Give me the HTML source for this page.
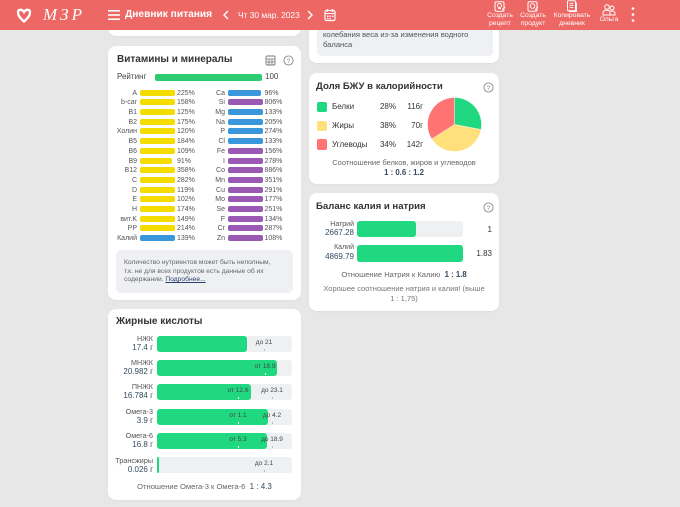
<!DOCTYPE html>
<html><head><meta charset="utf-8">
<style>
*{margin:0;padding:0;box-sizing:border-box}
body{width:680px;height:507px;overflow:hidden;background:#e7e7e7;font-family:"Liberation Sans","DejaVu Sans",sans-serif;position:relative;color:#333}
.a{position:absolute;white-space:nowrap;line-height:10px}
.panel{position:absolute;background:#fff;border-radius:8px;box-shadow:0 1px 2px rgba(0,0,0,.04)}
.hdr{position:absolute;left:0;top:0;width:680px;height:30px;background:#ed6764;z-index:5}
.w{color:#fff}
.r{position:absolute;left:0;width:680px;height:9.7px;font-size:7px;line-height:9.7px;color:#555}
.r span,.r i{position:absolute;white-space:nowrap}
.r span{top:0.8px}
.l1{right:543px}
.l2{right:455px}
.r i{top:1.85px;height:6px;border-radius:2px}
.b1{left:139.5px}
.b2{left:227.5px}
.p1{left:177px}
.p2{left:264.5px}
.y{background:#f4dc00}
.bl{background:#3a97dc}
.pu{background:#9b59b6}
.trk{position:absolute;left:157px;width:135px;height:16px;background:#eef0f2;border-radius:3px}
.fill{position:absolute;left:0;top:0;height:16px;background:#1fd880;border-radius:3px}
.mk{position:absolute;font-size:6.5px;color:#444;line-height:8px;top:3px;transform:translateX(-50%);white-space:nowrap}
.tk{position:absolute;width:1px;height:2px;background:#bbb;top:13px}
.fl{position:absolute;right:527px;font-size:7.2px;color:#555;line-height:8px;white-space:nowrap;text-align:right}
.fv{position:absolute;right:527px;font-size:8px;color:#34495e;line-height:9px;white-space:nowrap;text-align:right}
.ttl{font-size:10px;font-weight:bold;color:#333}
</style></head><body>

<!-- header -->
<div class="hdr">
  <svg class="a" style="left:16px;top:8px" width="16" height="15" viewBox="0 0 16 15">
    <path d="M8 4 C6 1 2 1 2 4.5 C2 8 5 11 8 13.5 C11 11 14 8 14 4.5 C14 1 10 1 8 4 Z" fill="none" stroke="#fff" stroke-width="2.4"/>
  </svg>
  <div class="a w" style="left:43px;top:5px;font-family:'Liberation Serif',serif;font-style:italic;font-size:17px;line-height:20px;letter-spacing:3px">МЗР</div>
  <svg class="a" style="left:108px;top:9px" width="13" height="12"><rect x="0" y="1" width="12" height="1.6" fill="#fff"/><rect x="0" y="5.2" width="12" height="1.6" fill="#fff"/><rect x="0" y="9.4" width="12" height="1.6" fill="#fff"/></svg>
  <div class="a w" style="left:125px;top:9px;font-size:10.2px;font-weight:bold;line-height:12px">Дневник питания</div>
  <svg class="a" style="left:222px;top:10px" width="8" height="10"><polyline points="6,1 2,5 6,9" fill="none" stroke="#fff" stroke-width="1.4"/></svg>
  <div class="a w" style="left:238px;top:10px;font-size:8.4px;line-height:10px">Чт 30 мар. 2023</div>
  <svg class="a" style="left:306px;top:10px" width="8" height="10"><polyline points="2,1 6,5 2,9" fill="none" stroke="#fff" stroke-width="1.4"/></svg>
  <svg class="a" style="left:324px;top:8px" width="12" height="14"><rect x="1" y="2.5" width="10" height="10" rx="1.5" fill="none" stroke="#fff" stroke-width="1.2"/><line x1="1" y1="5.5" x2="11" y2="5.5" stroke="#fff" stroke-width="1"/><line x1="3.5" y1="1" x2="3.5" y2="4" stroke="#fff" stroke-width="1.2"/><line x1="8.5" y1="1" x2="8.5" y2="4" stroke="#fff" stroke-width="1.2"/><rect x="3" y="7.5" width="1.5" height="1.5" fill="#fff"/><rect x="5.5" y="7.5" width="1.5" height="1.5" fill="#fff"/><rect x="8" y="7.5" width="1.5" height="1.5" fill="#fff"/><rect x="3" y="10" width="1.5" height="1.2" fill="#fff"/><rect x="5.5" y="10" width="1.5" height="1.2" fill="#fff"/></svg>

  <svg class="a" style="left:494px;top:1px" width="12" height="11"><rect x="1" y="0.7" width="9" height="9.5" rx="1.5" fill="none" stroke="#fff" stroke-width="1"/><circle cx="5.5" cy="4.5" r="2" fill="none" stroke="#fff" stroke-width="0.9"/><line x1="4" y1="7.5" x2="7" y2="7.5" stroke="#fff" stroke-width="0.9"/><path d="M8 9 L11 6" stroke="#fff" stroke-width="1"/></svg>
  <div class="a w" style="left:470px;width:60px;text-align:center;top:12px;font-size:6.8px;line-height:8px">Создать<br>рецепт</div>
  <svg class="a" style="left:527px;top:1px" width="12" height="11"><rect x="1" y="0.7" width="9" height="9.5" rx="1.5" fill="none" stroke="#fff" stroke-width="1"/><circle cx="5.5" cy="5" r="2.3" fill="none" stroke="#fff" stroke-width="0.9"/><path d="M8 9 L11 6" stroke="#fff" stroke-width="1"/></svg>
  <div class="a w" style="left:503px;width:60px;text-align:center;top:12px;font-size:6.8px;line-height:8px">Создать<br>продукт</div>
  <svg class="a" style="left:566px;top:0px" width="12" height="12"><rect x="1.5" y="0.7" width="8" height="10" rx="1" fill="none" stroke="#fff" stroke-width="1"/><line x1="3.5" y1="3.5" x2="7.5" y2="3.5" stroke="#fff" stroke-width="0.8"/><line x1="3.5" y1="5.5" x2="7.5" y2="5.5" stroke="#fff" stroke-width="0.8"/><line x1="3.5" y1="7.5" x2="7.5" y2="7.5" stroke="#fff" stroke-width="0.8"/><path d="M10.5 2.5 V11.5 H3" fill="none" stroke="#fff" stroke-width="0.9"/></svg>
  <div class="a w" style="left:542px;width:60px;text-align:center;top:12px;font-size:6.8px;line-height:8px">Копировать<br>дневник</div>
  <svg class="a" style="left:602px;top:4px" width="14" height="12"><circle cx="5" cy="3" r="2.3" fill="none" stroke="#fff" stroke-width="1"/><circle cx="10" cy="4" r="2" fill="none" stroke="#fff" stroke-width="1"/><path d="M1 11 V8.5 Q1 6.3 5 6.3 Q8 6.3 8 8.5 V11 Z" fill="none" stroke="#fff" stroke-width="1"/><path d="M8.5 7 Q13 6.8 13 9 V11 H8" fill="none" stroke="#fff" stroke-width="1"/></svg>
  <div class="a w" style="left:579px;width:60px;text-align:center;top:16px;font-size:6.8px;line-height:8px">Ольга</div>
  <svg class="a" style="left:630px;top:6px" width="6" height="18"><circle cx="3" cy="2.5" r="1.3" fill="#fff"/><circle cx="3" cy="8.5" r="1.3" fill="#fff"/><circle cx="3" cy="14.5" r="1.3" fill="#fff"/></svg>
</div>

<!-- top remnants -->
<div class="panel" style="left:108px;top:14px;width:193px;height:22px"></div>
<div class="panel" style="left:309px;top:14px;width:190px;height:49px"></div>
<div class="a" style="left:317px;top:14px;width:176px;height:42px;background:#eef0f3;border-radius:5px"></div>
<div class="a" style="left:323px;top:30px;font-size:7.6px;color:#555;line-height:9.5px">колебания веса из-за изменения водного<br>баланса</div>

<!-- vitamins panel -->
<div class="panel" style="left:108px;top:46px;width:193px;height:254px"></div>
<div class="a ttl" style="left:117px;top:55px">Витамины и минералы</div>
<svg class="a" style="left:265px;top:55px" width="11" height="11"><rect x="1" y="1" width="9" height="9" rx="1" fill="none" stroke="#777" stroke-width="0.9"/><line x1="1" y1="4" x2="10" y2="4" stroke="#777" stroke-width="0.8"/><line x1="1" y1="7" x2="10" y2="7" stroke="#777" stroke-width="0.8"/><line x1="4" y1="4" x2="4" y2="10" stroke="#777" stroke-width="0.8"/><line x1="7" y1="4" x2="7" y2="10" stroke="#777" stroke-width="0.8"/></svg>
<svg class="a" style="left:283px;top:55px" width="11" height="11"><circle cx="5.5" cy="5.5" r="4.6" fill="none" stroke="#888" stroke-width="0.9"/><text x="5.5" y="8" font-size="6.5" text-anchor="middle" fill="#888" font-family="Liberation Sans">?</text></svg>
<div class="a" style="left:117px;top:72px;font-size:8px;color:#444">Рейтинг</div>
<div class="a" style="left:155px;top:74px;width:107px;height:7px;background:#2ecc71;border-radius:2px"></div>
<div class="a" style="left:265px;top:72px;font-size:8px;color:#444">100</div>

<div class="r" style="top:87.85px"><span class="l1">A</span><i class="b1 y" style="width:35.5px"></i><span class="p1">225%</span><span class="l2">Ca</span><i class="b2 bl" style="width:33.6px"></i><span class="p2">96%</span></div>
<div class="r" style="top:97.55px"><span class="l1">b-car</span><i class="b1 y" style="width:35.5px"></i><span class="p1">158%</span><span class="l2">Si</span><i class="b2 pu" style="width:35px"></i><span class="p2">806%</span></div>
<div class="r" style="top:107.25px"><span class="l1">B1</span><i class="b1 y" style="width:35.5px"></i><span class="p1">125%</span><span class="l2">Mg</span><i class="b2 bl" style="width:35px"></i><span class="p2">133%</span></div>
<div class="r" style="top:116.95px"><span class="l1">B2</span><i class="b1 y" style="width:35.5px"></i><span class="p1">175%</span><span class="l2">Na</span><i class="b2 bl" style="width:35px"></i><span class="p2">205%</span></div>
<div class="r" style="top:126.65px"><span class="l1">Холин</span><i class="b1 y" style="width:35.5px"></i><span class="p1">120%</span><span class="l2">P</span><i class="b2 bl" style="width:35px"></i><span class="p2">274%</span></div>
<div class="r" style="top:136.35px"><span class="l1">B5</span><i class="b1 y" style="width:35.5px"></i><span class="p1">184%</span><span class="l2">Cl</span><i class="b2 bl" style="width:35px"></i><span class="p2">133%</span></div>
<div class="r" style="top:146.05px"><span class="l1">B6</span><i class="b1 y" style="width:35.5px"></i><span class="p1">109%</span><span class="l2">Fe</span><i class="b2 pu" style="width:35px"></i><span class="p2">156%</span></div>
<div class="r" style="top:155.75px"><span class="l1">B9</span><i class="b1 y" style="width:32.3px"></i><span class="p1">91%</span><span class="l2">I</span><i class="b2 pu" style="width:35px"></i><span class="p2">278%</span></div>
<div class="r" style="top:165.45px"><span class="l1">B12</span><i class="b1 y" style="width:35.5px"></i><span class="p1">358%</span><span class="l2">Co</span><i class="b2 pu" style="width:35px"></i><span class="p2">886%</span></div>
<div class="r" style="top:175.15px"><span class="l1">C</span><i class="b1 y" style="width:35.5px"></i><span class="p1">282%</span><span class="l2">Mn</span><i class="b2 pu" style="width:35px"></i><span class="p2">351%</span></div>
<div class="r" style="top:184.85px"><span class="l1">D</span><i class="b1 y" style="width:35.5px"></i><span class="p1">119%</span><span class="l2">Cu</span><i class="b2 pu" style="width:35px"></i><span class="p2">291%</span></div>
<div class="r" style="top:194.55px"><span class="l1">E</span><i class="b1 y" style="width:35.5px"></i><span class="p1">102%</span><span class="l2">Mo</span><i class="b2 pu" style="width:35px"></i><span class="p2">177%</span></div>
<div class="r" style="top:204.25px"><span class="l1">H</span><i class="b1 y" style="width:35.5px"></i><span class="p1">174%</span><span class="l2">Se</span><i class="b2 pu" style="width:35px"></i><span class="p2">251%</span></div>
<div class="r" style="top:213.95px"><span class="l1">вит.K</span><i class="b1 y" style="width:35.5px"></i><span class="p1">149%</span><span class="l2">F</span><i class="b2 pu" style="width:35px"></i><span class="p2">134%</span></div>
<div class="r" style="top:223.65px"><span class="l1">PP</span><i class="b1 y" style="width:35.5px"></i><span class="p1">214%</span><span class="l2">Cr</span><i class="b2 pu" style="width:35px"></i><span class="p2">287%</span></div>
<div class="r" style="top:233.35px"><span class="l1">Калий</span><i class="b1 bl" style="width:35.5px"></i><span class="p1">139%</span><span class="l2">Zn</span><i class="b2 pu" style="width:35px"></i><span class="p2">108%</span></div>

<div class="a" style="left:116px;top:250px;width:177px;height:43px;background:#eef0f3;border-radius:5px"></div>
<div class="a" style="left:124px;top:259px;font-size:6.7px;line-height:8.5px;color:#666">Количество нутриентов может быть неполным,<br>т.к. не для всех продуктов есть данные об их<br>содержании. <span style="color:#2c3e70;text-decoration:underline">Подробнее...</span></div>

<!-- fatty acids -->
<div class="panel" style="left:108px;top:309px;width:193px;height:191px"></div>
<div class="a ttl" style="left:116px;top:317px">Жирные кислоты</div>

<div class="fl" style="top:335px">НЖК</div><div class="fv" style="top:343px">17.4 г</div>
<div class="trk" style="top:336px"><div class="fill" style="width:90px"></div><div class="mk" style="left:107px">до 21</div><div class="tk" style="left:107px"></div></div>

<div class="fl" style="top:359px">МНЖК</div><div class="fv" style="top:367px">20.982 г</div>
<div class="trk" style="top:360px"><div class="fill" style="width:120px"></div><div class="mk" style="left:108px">от 18.9</div><div class="tk" style="left:108px;background:#fff"></div></div>

<div class="fl" style="top:383px">ПНЖК</div><div class="fv" style="top:391px">16.784 г</div>
<div class="trk" style="top:384px"><div class="fill" style="width:94px"></div><div class="mk" style="left:81px">от 12.6</div><div class="tk" style="left:81px;background:#fff"></div><div class="mk" style="left:115px">до 23.1</div><div class="tk" style="left:115px"></div></div>

<div class="fl" style="top:407.5px">Омега-3</div><div class="fv" style="top:415.5px">3.9 г</div>
<div class="trk" style="top:408.5px"><div class="fill" style="width:111px"></div><div class="mk" style="left:81px">от 1.1</div><div class="tk" style="left:81px;background:#fff"></div><div class="mk" style="left:115px">до 4.2</div><div class="tk" style="left:115px"></div></div>

<div class="fl" style="top:432px">Омега-6</div><div class="fv" style="top:440px">16.8 г</div>
<div class="trk" style="top:432.7px"><div class="fill" style="width:110px"></div><div class="mk" style="left:81px">от 5.3</div><div class="tk" style="left:81px;background:#fff"></div><div class="mk" style="left:115px">до 18.9</div><div class="tk" style="left:115px"></div></div>

<div class="fl" style="top:457px">Трансжиры</div><div class="fv" style="top:465px">0.026 г</div>
<div class="trk" style="top:457.3px"><div class="fill" style="width:2px;border-radius:1px"></div><div class="mk" style="left:107px">до 2.1</div><div class="tk" style="left:107px"></div></div>

<div class="a" style="left:108px;width:193px;text-align:center;top:482px;font-size:7.6px;color:#666">Отношение Омега-3 к Омега-6 &nbsp;<b style="color:#34495e;font-weight:normal;font-size:8px">1 : 4.3</b></div>

<!-- BJU panel -->
<div class="panel" style="left:309px;top:73px;width:190px;height:111px"></div>
<div class="a ttl" style="left:316px;top:82px;font-size:9.6px">Доля БЖУ в калорийности</div>
<svg class="a" style="left:483px;top:82px" width="11" height="11"><circle cx="5.5" cy="5.5" r="4.6" fill="none" stroke="#888" stroke-width="0.9"/><text x="5.5" y="8" font-size="6.5" text-anchor="middle" fill="#888" font-family="Liberation Sans">?</text></svg>

<div class="a" style="left:316.5px;top:101.5px;width:10.5px;height:10.5px;background:#1fd880;border-radius:2px"></div>
<div class="a" style="left:332px;top:102px;font-size:8px;color:#333">Белки</div>
<div class="a" style="left:370px;width:26px;text-align:right;top:102px;font-size:8px;color:#333">28%</div>
<div class="a" style="left:400px;width:23px;text-align:right;top:102px;font-size:8px;color:#333">116г</div>

<div class="a" style="left:316.5px;top:120.5px;width:10.5px;height:10.5px;background:#ffe07a;border-radius:2px"></div>
<div class="a" style="left:332px;top:121px;font-size:8px;color:#333">Жиры</div>
<div class="a" style="left:370px;width:26px;text-align:right;top:121px;font-size:8px;color:#333">38%</div>
<div class="a" style="left:400px;width:23px;text-align:right;top:121px;font-size:8px;color:#333">70г</div>

<div class="a" style="left:316.5px;top:139px;width:10.5px;height:10.5px;background:#ff7373;border-radius:2px"></div>
<div class="a" style="left:332px;top:139.5px;font-size:8px;color:#333">Углеводы</div>
<div class="a" style="left:370px;width:26px;text-align:right;top:139.5px;font-size:8px;color:#333">34%</div>
<div class="a" style="left:400px;width:23px;text-align:right;top:139.5px;font-size:8px;color:#333">142г</div>

<svg class="a" style="left:0;top:0" width="680" height="507">
  <path d="M454.5,124.5 L454.5,97.5 A27,27 0 0 1 481.02,129.56 Z" fill="#1fd880" stroke="#fff" stroke-width="0.4"/>
  <path d="M454.5,124.5 L481.02,129.56 A27,27 0 0 1 431.7,138.97 Z" fill="#ffe07a" stroke="#fff" stroke-width="0.4"/>
  <path d="M454.5,124.5 L431.7,138.97 A27,27 0 0 1 454.5,97.5 Z" fill="#ff7373" stroke="#fff" stroke-width="0.4"/>
</svg>

<div class="a" style="left:309px;width:190px;text-align:center;top:158px;font-size:7.5px;color:#666">Соотношение белков, жиров и углеводов</div>
<div class="a" style="left:309px;width:190px;text-align:center;top:167.5px;font-size:7.8px;color:#34495e;font-weight:bold">1 : 0.6 : 1.2</div>

<!-- balance panel -->
<div class="panel" style="left:309px;top:193px;width:190px;height:118px"></div>
<div class="a ttl" style="left:316px;top:202px;font-size:9.6px">Баланс калия и натрия</div>
<svg class="a" style="left:483px;top:202px" width="11" height="11"><circle cx="5.5" cy="5.5" r="4.6" fill="none" stroke="#888" stroke-width="0.9"/><text x="5.5" y="8" font-size="6.5" text-anchor="middle" fill="#888" font-family="Liberation Sans">?</text></svg>

<div class="a" style="right:326px;top:220.5px;font-size:7px;color:#555;line-height:8px">Натрий</div>
<div class="a" style="right:326px;top:228px;font-size:8px;color:#34495e;line-height:9px">2667.28</div>
<div class="a" style="left:357px;top:221px;width:106px;height:16px;background:#eef0f2;border-radius:3px"><div class="fill" style="width:59px"></div></div>
<div class="a" style="right:188px;top:224.5px;font-size:8px;color:#333">1</div>

<div class="a" style="right:326px;top:244px;font-size:7px;color:#555;line-height:8px">Калий</div>
<div class="a" style="right:326px;top:251.5px;font-size:8px;color:#34495e;line-height:9px">4869.79</div>
<div class="a" style="left:357px;top:245px;width:106px;height:17px;background:#eef0f2;border-radius:3px"><div class="fill" style="width:106px;height:17px"></div></div>
<div class="a" style="right:188px;top:248.5px;font-size:8px;color:#333">1.83</div>

<div class="a" style="left:309px;width:190px;text-align:center;top:269.5px;font-size:7.6px;color:#666">Отношение Натрия к Калию &nbsp;<b style="color:#34495e;font-size:7.8px">1 : 1.8</b></div>
<div class="a" style="left:309px;width:190px;text-align:center;top:284px;font-size:7.5px;color:#777;line-height:9.5px;white-space:normal;padding:0 6px">Хорошее соотношение натрия и калия! (выше<br>1 : 1,75)</div>

</body></html>
